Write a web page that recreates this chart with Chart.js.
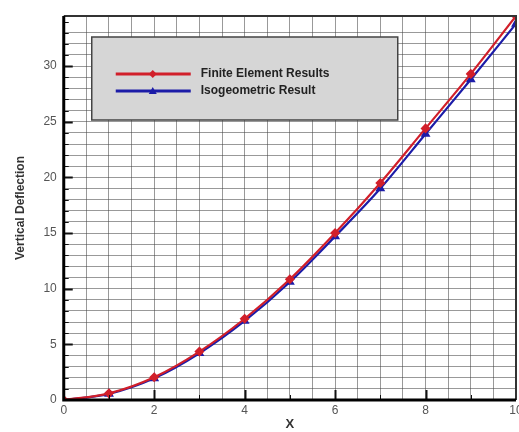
<!DOCTYPE html>
<html>
<head>
<meta charset="utf-8">
<script src="https://cdn.jsdelivr.net/npm/chart.js@4"></script>
<style>
  html, body { margin: 0; padding: 0; background: #fff; overflow: hidden; }
  #wrap { position: relative; width: 531px; height: 432px; }
</style>
</head>
<body>
<div id="wrap"><canvas id="chart"></canvas></div>
<script>
// ── Data ──
var xValues = [0, 1, 2, 3, 4, 5, 6, 7, 8, 9, 10];
var feValues = [0, 0.6, 2.05, 4.35, 7.3, 10.85, 15.0, 19.5, 24.4, 29.3, 34.5];
var isoValues = [0, 0.55, 1.95, 4.2, 7.1, 10.6, 14.7, 19.0, 23.9, 28.8, 33.8];
var seriesLabels = ['Finite Element Results', 'Isogeometric Result'];
var seriesColors = ['#d11f2a', '#1c1ca8'];
var xLabelTicks = [0, 2, 4, 6, 8, 10];
var yLabelTicks = [0, 5, 10, 15, 20, 25, 30];

function toPoints(ys) {
  return xValues.map(function (x, i) { return { x: x, y: ys[i] }; });
}

// ── Frame, inner ticks and boxed legend (Tecplot look) ──
var framePlugin = {
  id: 'frame',
  beforeDatasetsDraw: function (chart) {
    var ctx = chart.ctx, a = chart.chartArea;
    var bx = a.left + 28, by = a.top + 21, bw = 306, bh = 83;
    ctx.save();
    ctx.fillStyle = '#d6d6d6';
    ctx.fillRect(bx, by, bw, bh);
    ctx.strokeStyle = '#444';
    ctx.lineWidth = 1.5;
    ctx.strokeRect(bx, by, bw, bh);
    ctx.font = 'bold 12px "Liberation Sans", Arial, sans-serif';
    ctx.textBaseline = 'middle';
    seriesLabels.forEach(function (lbl, i) {
      var ly = by + 37 + i * 17;
      ctx.strokeStyle = seriesColors[i];
      ctx.lineWidth = 3;
      ctx.beginPath();
      ctx.moveTo(bx + 24, ly);
      ctx.lineTo(bx + 99, ly);
      ctx.stroke();
      ctx.fillStyle = seriesColors[i];
      ctx.beginPath();
      if (i === 0) {
        ctx.moveTo(bx + 61, ly - 4); ctx.lineTo(bx + 65, ly);
        ctx.lineTo(bx + 61, ly + 4); ctx.lineTo(bx + 57, ly);
      } else {
        ctx.moveTo(bx + 61, ly - 4); ctx.lineTo(bx + 65, ly + 3); ctx.lineTo(bx + 57, ly + 3);
      }
      ctx.closePath();
      ctx.fill();
      ctx.fillStyle = '#222';
      ctx.fillText(lbl, bx + 109, ly);
    });
    ctx.restore();
  },
  afterDraw: function (chart) {
    var ctx = chart.ctx, a = chart.chartArea;
    var xs = chart.scales.x, ys = chart.scales.y;
    ctx.save();
    ctx.strokeStyle = '#111';
    // y ticks pointing inward
    for (var v = 1; v < 35; v++) {
      var py = Math.round(ys.getPixelForValue(v)) + 0.5;
      var major = v % 5 === 0;
      ctx.lineWidth = major ? 2 : 1;
      ctx.beginPath();
      ctx.moveTo(a.left, py);
      ctx.lineTo(a.left + (major ? 9 : 5), py);
      ctx.stroke();
    }
    // x ticks pointing inward
    for (var u = 1; u < 10; u++) {
      var px = Math.round(xs.getPixelForValue(u)) + 0.5;
      var majorX = u % 2 === 0;
      ctx.lineWidth = majorX ? 2 : 1;
      ctx.beginPath();
      ctx.moveTo(px, a.bottom);
      ctx.lineTo(px, a.bottom - (majorX ? 10 : 5));
      ctx.stroke();
    }
    // plot frame
    ctx.lineWidth = 2;
    ctx.strokeStyle = '#333';
    ctx.beginPath();
    ctx.moveTo(a.left, a.top); ctx.lineTo(a.right, a.top); ctx.lineTo(a.right, a.bottom);
    ctx.stroke();
    ctx.lineWidth = 3;
    ctx.strokeStyle = '#000';
    ctx.beginPath();
    ctx.moveTo(a.left, a.top); ctx.lineTo(a.left, a.bottom); ctx.lineTo(a.right, a.bottom);
    ctx.stroke();
    ctx.restore();
  }
};

var gridColor = 'rgba(70,70,70,0.55)';
var tickFont = { family: '"Liberation Sans", Arial, sans-serif', size: 12 };

new Chart(document.getElementById('chart').getContext('2d'), {
  type: 'line',
  data: {
    datasets: [
      {
        label: seriesLabels[0],
        data: toPoints(feValues),
        borderColor: seriesColors[0],
        backgroundColor: seriesColors[0],
        borderWidth: 2.2,
        pointStyle: 'rectRot',
        pointRadius: 3.5,
        cubicInterpolationMode: 'monotone'
      },
      {
        label: seriesLabels[1],
        data: toPoints(isoValues),
        borderColor: seriesColors[1],
        backgroundColor: seriesColors[1],
        borderWidth: 2.2,
        pointStyle: 'triangle',
        pointRadius: 3.5,
        cubicInterpolationMode: 'monotone'
      }
    ]
  },
  options: {
    responsive: true,
    maintainAspectRatio: false,
    animation: false,
    layout: { padding: { left: 13, right: 15, top: 16, bottom: 0 } },
    plugins: { legend: { display: false }, tooltip: { enabled: false } },
    scales: {
      x: {
        type: 'linear',
        min: 0,
        max: 10,
        grid: { color: gridColor, lineWidth: 1, drawTicks: false },
        border: { display: false },
        ticks: {
          stepSize: 0.5,
          autoSkip: false,
          maxRotation: 0,
          padding: 3,
          color: '#555',
          font: tickFont,
          callback: function (v) { return xLabelTicks.indexOf(v) >= 0 ? String(v) : ''; }
        },
        title: {
          display: true,
          text: 'X',
          color: '#333',
          padding: { top: -4, bottom: 0 },
          font: { family: '"Liberation Sans", Arial, sans-serif', size: 13, weight: 'bold' }
        }
      },
      y: {
        min: 0,
        max: 34.5,
        grid: { color: gridColor, lineWidth: 1, drawTicks: false },
        border: { display: false },
        ticks: {
          stepSize: 1,
          autoSkip: false,
          padding: 7,
          color: '#555',
          font: tickFont,
          callback: function (v) { return yLabelTicks.indexOf(v) >= 0 ? String(v) : ''; }
        },
        title: {
          display: true,
          text: 'Vertical Deflection',
          color: '#333',
          padding: { top: 0, bottom: 9 },
          font: { family: '"Liberation Sans", Arial, sans-serif', size: 12, weight: 'bold' }
        }
      }
    }
  },
  plugins: [framePlugin]
});
</script>
</body>
</html>
